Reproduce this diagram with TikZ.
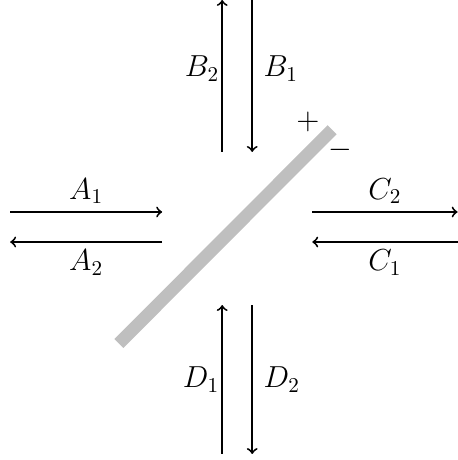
\documentclass[tikz,border=0pt]{standalone}
\usepackage{tikz}
\usetikzlibrary{positioning}

\begin{document}
\begin{tikzpicture}[
  font=\Large,
  flow/.style={->, line width=0.9pt},
  plate/.style={line width=6pt, black!25}]
\useasboundingbox (-3.95,-3.88) rectangle (3.67,3.78);
% beam splitter
\coordinate (p1) at (-1.97,-1.94);
\coordinate (p2) at (1.58,1.62);
\draw[plate] (p1) -- (p2);
\node (plus)  at (1.18,1.75) {$+$};
\node (minus) at (1.72,1.28) {$-$};
% port ends
\coordinate (a1) at (-3.78,0.25);  \coordinate (a2) at (-1.25,0.25);
\coordinate (a3) at (-1.25,-0.25); \coordinate (a4) at (-3.78,-0.25);
\coordinate (c1) at (1.25,0.25);   \coordinate (c2) at (3.67,0.25);
\coordinate (c3) at (3.67,-0.25);  \coordinate (c4) at (1.25,-0.25);
\coordinate (b1) at (-0.25,1.25);  \coordinate (b2) at (-0.25,3.78);
\coordinate (b3) at (0.25,3.78);   \coordinate (b4) at (0.25,1.25);
\coordinate (d1) at (-0.25,-3.78); \coordinate (d2) at (-0.25,-1.3);
\coordinate (d3) at (0.25,-1.3);   \coordinate (d4) at (0.25,-3.78);
\draw[flow] (a1) -- node[above] (la1) {$A_1$} (a2);
\draw[flow] (a3) -- node[below] (la2) {$A_2$} (a4);
\draw[flow] (c1) -- node[above] (lc2) {$C_2$} (c2);
\draw[flow] (c3) -- node[below] (lc1) {$C_1$} (c4);
\draw[flow] (b1) -- node[pos=0.55, left, inner sep=1pt] (lb2) {$B_2$} (b2);
\draw[flow] (b3) -- node[pos=0.45, right, inner sep=5pt] (lb1) {$B_1$} (b4);
\draw[flow] (d1) -- node[left, inner sep=1pt] (ld1) {$D_1$} (d2);
\draw[flow] (d3) -- node[right, inner sep=5pt] (ld2) {$D_2$} (d4);
\end{tikzpicture}
\end{document}
